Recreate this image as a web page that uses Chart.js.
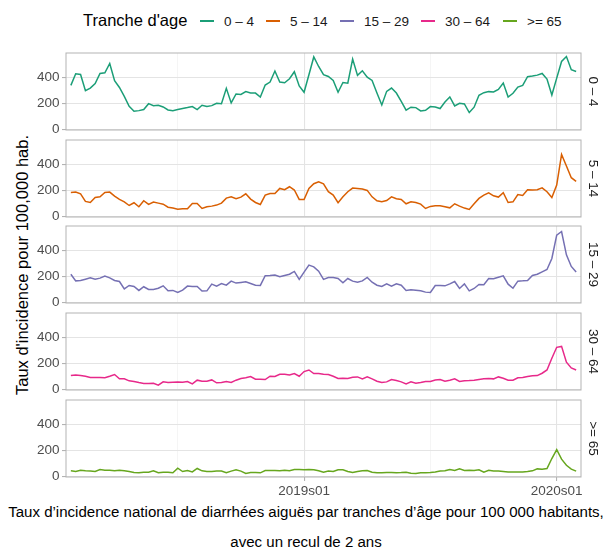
<!DOCTYPE html>
<html>
<head>
<meta charset="utf-8">
<script src="https://cdn.jsdelivr.net/npm/chart.js@4.4.1/dist/chart.umd.min.js"></script>
<style>
  body { margin:0; background:#fff; width:606px; height:547px; position:relative; overflow:hidden;
         font-family:"Liberation Sans", Arial, sans-serif; }
  canvas { position:absolute; left:0; }
  .txt { position:absolute; white-space:nowrap; color:#000; }
  .key { position:absolute; height:2px; width:14px; }
  .lab { position:absolute; font-size:13.5px; color:#1a1a1a; transform:translateY(-50%); }
  .cap { left:0; width:612px; text-align:center; font-size:15.05px; transform:translateY(-50%); }
</style>
</head>
<body>
<div id="legend"></div>
<div class="txt" id="ytitle" style="left:22px;top:265px;font-size:16.5px;transform:translate(-50%,-50%) rotate(-90deg);">Taux d'incidence pour 100,000 hab.</div>
<div class="txt cap" style="top:511px;">Taux d’incidence national de diarrhées aiguës par tranches d’âge pour 100 000 habitants,</div>
<div class="txt cap" style="top:541px;">avec un recul de 2 ans</div>
<script>
// weekly incidence per 100 000, 2018s05 -> 2020s05
const ageGroups = ['0 – 4', '5 – 14', '15 – 29', '30 – 64', '>= 65'];
const colors = ['#1B9E77', '#D95F02', '#7570B3', '#E7298A', '#66A61E'];

const inc0_4 = [337,425,420,296,316,350,428,433,504,372,321,253,177,139,144,152,197,182,185,172,149,144,152,160,167,175,152,185,175,182,200,197,314,203,271,268,289,278,278,248,339,362,446,362,357,387,441,332,284,
  418,554,481,418,405,375,284,359,354,537,413,448,400,375,278,187,291,316,278,215,147,170,167,142,147,175,172,160,210,248,180,200,195,129,170,261,281,289,286,306,354,248,276,324,337,403,408,415,428,385,263,392,519,557,456,443];
const inc5_14 = [184,186,173,115,107,145,150,184,186,156,130,112,84,105,74,120,92,110,102,94,71,64,56,59,59,99,99,61,74,79,87,102,140,150,135,148,173,133,107,92,163,176,176,214,204,227,202,130,130,
  214,250,265,250,189,163,105,150,189,217,214,209,199,150,120,112,122,150,135,130,97,112,107,94,61,77,82,82,74,66,97,79,64,54,97,138,163,181,158,148,181,107,112,168,161,204,202,204,219,189,145,240,474,385,296,268];
const inc15_29 = [216,165,168,178,188,178,186,201,188,168,160,104,130,122,92,120,99,99,109,127,89,92,76,94,125,122,122,87,89,140,125,145,132,163,148,153,158,145,132,130,204,206,209,196,206,216,237,176,232,
  285,272,239,176,191,191,183,150,183,163,155,165,191,155,132,122,142,125,142,132,92,97,94,89,79,76,130,130,127,142,160,107,142,89,107,137,135,183,181,193,204,140,109,163,165,168,206,216,234,252,336,514,542,364,275,232];
const inc30_64 = [106,111,106,101,91,91,91,89,101,114,81,81,66,61,53,46,46,48,33,58,53,56,58,56,61,43,71,63,63,73,51,53,61,53,71,84,89,99,78,78,76,101,99,116,116,111,122,101,137,
  149,122,122,116,114,101,84,86,84,94,96,81,96,81,63,53,58,76,68,58,43,58,48,53,61,61,73,76,63,71,81,61,66,68,71,76,81,84,81,96,86,71,71,89,91,99,104,106,124,149,238,322,329,208,165,149];
const inc65 = [43,38,48,43,41,38,53,48,48,43,48,43,38,30,28,33,33,43,28,33,33,28,63,38,46,35,61,43,38,38,41,41,28,41,51,41,23,30,30,28,46,46,46,43,48,43,53,53,51,
  53,51,43,33,41,38,51,51,38,30,38,43,46,33,28,28,30,30,28,30,33,25,23,28,28,30,35,41,43,53,46,58,46,48,46,51,33,48,41,41,38,35,35,35,35,38,43,58,56,61,137,205,132,86,56,41];
const series = [inc0_4, inc5_14, inc15_29, inc30_64, inc65];

// week labels
const weeks = [];
for (let k = 0; k < inc0_4.length; k++) {
  let w = 5 + k, y = 2018;
  while (w > 52) { w -= 52; y++; }
  weeks.push(y + 's' + String(w).padStart(2, '0'));
}
const xMajorLabels = ['2019s01', '2020s01'];
const xMinorLabels = ['2018s27', '2019s27'];
const yTicks = [0, 100, 200, 300, 400, 500];
const yLabelled = [0, 200, 400];

const PANEL_LEFT = 66, PANEL_RIGHT = 581, PANEL_H = 77;
const PANEL_TOPS = [53, 140, 226, 313, 400];
const FONT = '"Liberation Sans", Arial, sans-serif';

// legend
const legend = document.getElementById('legend');
legend.innerHTML = '<div class="txt" style="left:83px;top:20px;font-size:16.5px;transform:translateY(-50%)">Tranche d\'age</div>';
const keyX = [200, 266, 340, 421, 503];
ageGroups.forEach((g, i) => {
  legend.innerHTML += `<div class="key" style="left:${keyX[i]}px;top:20px;background:${colors[i]}"></div>`
    + `<div class="lab" style="left:${keyX[i] + 24}px;top:21px">${g.replace('>', '&gt;')}</div>`;
});

const panelFrame = {
  id: 'panelFrame',
  afterDraw(chart, args, opts) {
    const { ctx, chartArea: a } = chart;
    ctx.save();
    ctx.strokeStyle = '#B3B3B3';
    ctx.lineWidth = 1;
    ctx.strokeRect(a.left, a.top, a.right - a.left, a.bottom - a.top);
    ctx.fillStyle = '#1a1a1a';
    ctx.font = '13.5px ' + FONT;
    ctx.translate(a.right + 12, (a.top + a.bottom) / 2);
    ctx.rotate(Math.PI / 2);
    ctx.textAlign = 'center';
    ctx.textBaseline = 'middle';
    ctx.fillText(opts.label, 0, 0);
    ctx.restore();
  }
};

series.forEach((vals, i) => {
  const last = i === series.length - 1;
  const padTop = 12, padBottom = last ? 0 : 12, axisH = last ? 22 : 0;
  const canvas = document.createElement('canvas');
  canvas.width = 606;
  canvas.height = padTop + PANEL_H + padBottom + axisH;
  canvas.style.top = (PANEL_TOPS[i] - padTop) + 'px';
  document.body.appendChild(canvas);

  new Chart(canvas, {
    type: 'line',
    data: {
      datasets: [{
        label: ageGroups[i],
        data: vals.map((v, k) => ({ x: k, y: v })),
        borderColor: colors[i],
        borderWidth: 1.5,
        pointRadius: 0,
        tension: 0,
        fill: false
      }]
    },
    options: {
      responsive: false,
      animation: false,
      events: [],
      layout: { padding: { top: padTop, bottom: padBottom, left: 0, right: 606 - PANEL_RIGHT } },
      plugins: { legend: { display: false }, tooltip: { enabled: false }, panelFrame: { label: ageGroups[i] } },
      scales: {
        x: {
          type: 'linear',
          min: -1, max: weeks.length,
          border: { display: false },
          afterBuildTicks: s => {
            s.ticks = weeks.map((w, k) => ({ value: k, w }))
              .filter(t => xMajorLabels.includes(t.w) || xMinorLabels.includes(t.w))
              .map(t => ({ value: t.value }));
          },
          afterFit: s => { s.height = axisH; },
          grid: {
            color: c => xMajorLabels.includes(weeks[c.tick.value]) ? '#E4E4E4' : '#F1F1F1',
            lineWidth: c => xMajorLabels.includes(weeks[c.tick.value]) ? 1.1 : 0.7,
            drawTicks: last,
            tickLength: 4,
            tickColor: c => xMajorLabels.includes(weeks[c.tick.value]) ? '#B3B3B3' : 'rgba(0,0,0,0)'
          },
          ticks: {
            display: last,
            maxRotation: 0,
            autoSkip: false,
            padding: 2,
            color: '#4D4D4D',
            font: { family: FONT, size: 13.5 },
            callback: v => xMajorLabels.includes(weeks[v]) ? weeks[v] : ''
          }
        },
        y: {
          min: -4, max: 584,
          border: { display: false },
          afterBuildTicks: s => { s.ticks = yTicks.map(v => ({ value: v })); },
          afterFit: s => { s.width = PANEL_LEFT; },
          grid: {
            color: c => yLabelled.includes(c.tick.value) ? '#E4E4E4' : '#F1F1F1',
            lineWidth: c => yLabelled.includes(c.tick.value) ? 1.1 : 0.7,
            tickLength: 4,
            tickColor: c => yLabelled.includes(c.tick.value) ? '#B3B3B3' : 'rgba(0,0,0,0)'
          },
          ticks: {
            padding: 2.5,
            color: '#4D4D4D',
            font: { family: FONT, size: 13.5 },
            callback: v => yLabelled.includes(v) ? String(v) : ''
          }
        }
      }
    },
    plugins: [panelFrame]
  });
});
</script>
</body>
</html>
